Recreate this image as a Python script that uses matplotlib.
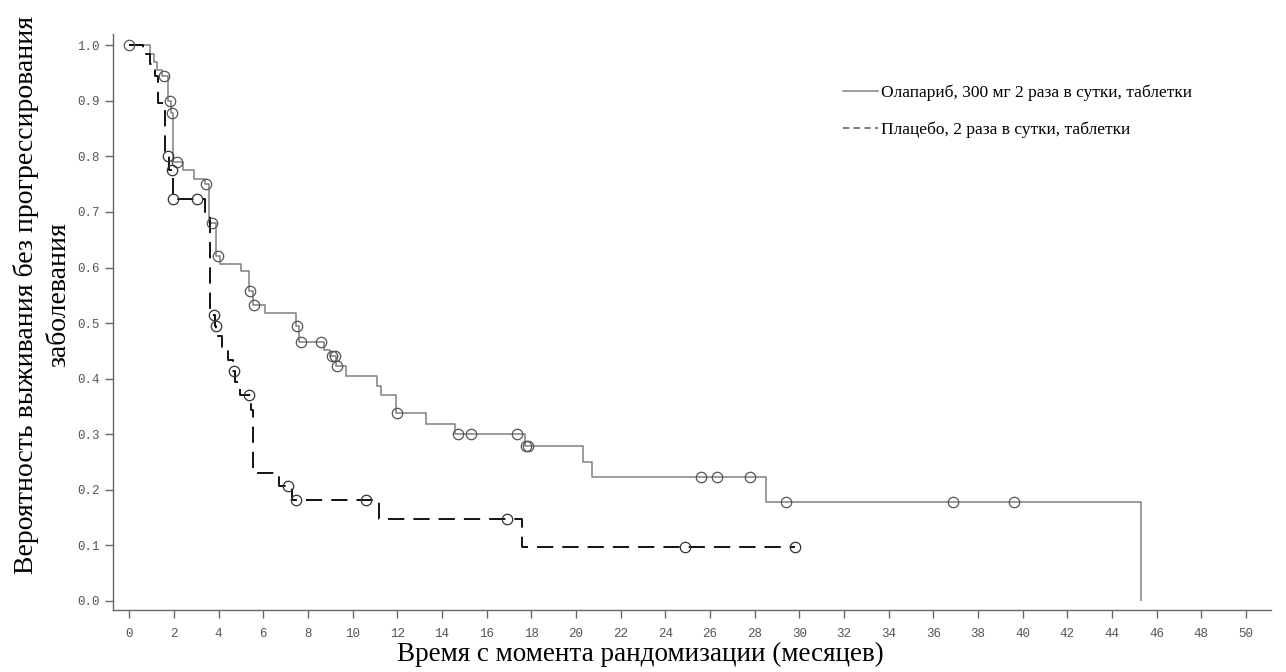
import numpy as np
import matplotlib.pyplot as plt
from matplotlib.lines import Line2D

# Олапариб: время события (мес.) и доля без прогрессирования после него
ola_t = [0, 0.95, 1.1, 1.25, 1.45, 1.75, 1.88, 1.97, 2.4, 2.9, 3.4, 3.58, 3.9, 4.05,
         5.0, 5.35, 5.55, 6.1, 7.45, 7.6, 8.7, 9.0, 9.25, 9.7, 11.1, 11.25, 11.95,
         13.3, 14.6, 17.7, 20.3, 20.7, 28.5, 45.3]
ola_s = [1.0, 0.985, 0.97, 0.955, 0.944, 0.90, 0.878, 0.79, 0.775, 0.76, 0.75, 0.68,
         0.62, 0.607, 0.593, 0.557, 0.533, 0.519, 0.494, 0.465, 0.452, 0.44, 0.422,
         0.404, 0.386, 0.371, 0.338, 0.319, 0.30, 0.278, 0.25, 0.223, 0.177, 0.0]
ola_cens_t = [0, 1.57, 1.83, 1.92, 2.15, 3.45, 3.72, 3.98, 5.42, 5.6, 7.5, 7.7, 8.6,
              9.1, 9.2, 9.3, 12.0, 14.7, 15.3, 17.35, 17.75, 17.85, 25.6, 26.3, 27.8,
              29.4, 36.9, 39.6]

# Плацебо
pla_t = [0, 0.6, 0.95, 1.15, 1.3, 1.6, 1.8, 1.95, 3.4, 3.6, 3.85, 3.9, 4.15, 4.4,
         4.65, 4.72, 4.95, 5.45, 5.55, 6.7, 7.3, 11.2, 17.6, 29.8]
pla_s = [1.0, 0.985, 0.966, 0.945, 0.897, 0.80, 0.776, 0.724, 0.70, 0.514, 0.494,
         0.476, 0.456, 0.434, 0.413, 0.393, 0.371, 0.344, 0.23, 0.207, 0.182, 0.148,
         0.097, 0.097]
pla_cens_t = [1.72, 1.9, 1.97, 3.05, 3.8, 3.87, 4.7, 5.35, 7.1, 7.45, 10.6, 16.9,
              24.9, 29.8]

x_ticks = np.arange(0, 51, 2)
y_ticks = np.arange(0, 1.01, 0.1)

label_ola = "Олапариб, 300 мг 2 раза в сутки, таблетки"
label_pla = "Плацебо, 2 раза в сутки, таблетки"


def km_value(t_steps, s_steps, t):
    # значение ступенчатой кривой в момент t
    idx = np.searchsorted(t_steps, t, side='right') - 1
    return s_steps[max(idx, 0)]


fig = plt.figure(figsize=(12.86, 6.72), dpi=100)
ax = fig.add_axes([0.088, 0.092, 0.9, 0.857])

ax.step(ola_t, ola_s, where='post', color='#808080', lw=1.1, solid_capstyle='butt')
ax.step(pla_t, pla_s, where='post', color='black', lw=1.3, dashes=(9, 5))

ola_cens_s = [km_value(ola_t, ola_s, t) for t in ola_cens_t]
pla_cens_s = [km_value(pla_t, pla_s, t) for t in pla_cens_t]
ax.plot(ola_cens_t, ola_cens_s, 'o', ms=7.5, mfc='none', mec='#555555', mew=0.9)
ax.plot(pla_cens_t, pla_cens_s, 'o', ms=7.5, mfc='none', mec='#333333', mew=0.9)

ax.set_xlim(-0.72, 51.1)
ax.set_ylim(-0.017, 1.02)
ax.set_xticks(x_ticks)
ax.set_yticks(y_ticks)
ax.set_xticklabels([str(v) for v in x_ticks])
ax.set_yticklabels([f"{v:.1f}" for v in y_ticks])

for side in ['top', 'right']:
    ax.spines[side].set_visible(False)
for side in ['left', 'bottom']:
    ax.spines[side].set_color('#666666')
    ax.spines[side].set_linewidth(1.0)

ax.tick_params(axis='both', direction='out', colors='#666666', length=6, width=1,
               labelcolor='#555555', labelsize=9)
ax.tick_params(axis='x', pad=7)
for lab in ax.get_xticklabels() + ax.get_yticklabels():
    lab.set_family('Liberation Mono')

# подписи осей
fig.text(640 / 1286, 1 - 654 / 672, "Время с момента рандомизации (месяцев)",
         family='Liberation Serif', fontsize=19.5, ha='center', va='center')
fig.text(42 / 1286, 1 - 295 / 672,
         "Вероятность выживания без прогрессирования\nзаболевания",
         family='Liberation Serif', fontsize=20, ha='center', va='center',
         rotation=90, linespacing=1.4, multialignment='center')

handles = [Line2D([], [], color='#808080', lw=1.1),
           Line2D([], [], color='#555555', lw=1.1, dashes=(4, 3))]
ax.legend(handles, [label_ola, label_pla], loc='upper left',
          bbox_to_anchor=(0.617, 0.94), frameon=False, handlelength=2.0,
          handletextpad=0.2, labelspacing=1.2,
          prop={'family': 'Liberation Serif', 'size': 12.5})

fig.savefig('out.png', dpi=100)
